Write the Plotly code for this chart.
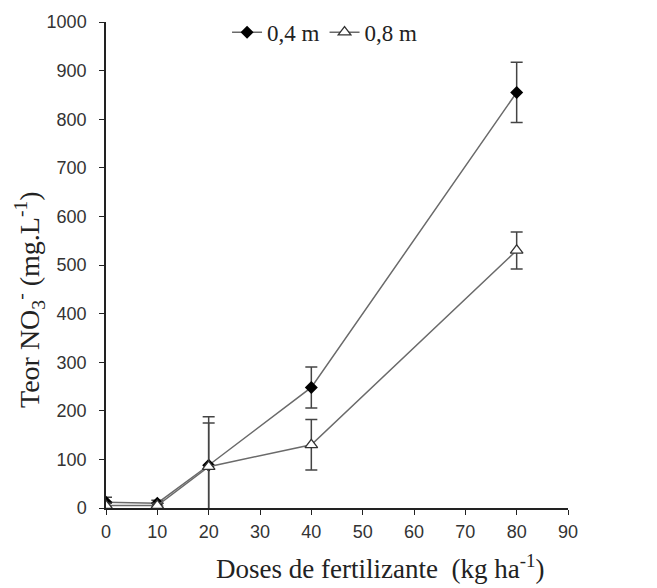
import plotly.graph_objects as go

doses = [0, 10, 20, 40, 80]
teor_04 = [12, 10, 88, 248, 855]
err_04 = [10, 6, 100, 42, 62]
teor_08 = [5, 5, 85, 130, 530]
err_08 = [5, 5, 90, 52, 38]

x_title = "Doses de fertilizante  (kg ha<sup>-1</sup>)"
y_title = "Teor NO<sub>3</sub><sup>-</sup> (mg.L<sup>-1</sup>)"

fig = go.Figure()
fig.add_trace(go.Scatter(
    x=doses, y=teor_04, name="0,4 m", mode="lines+markers",
    line=dict(color="#6a6a6a", width=1.5),
    marker=dict(symbol="diamond", size=10, color="black"),
    error_y=dict(type="data", array=err_04, color="#444444", thickness=1.5, width=6),
))
fig.add_trace(go.Scatter(
    x=doses, y=teor_08, name="0,8 m", mode="lines+markers",
    line=dict(color="#6a6a6a", width=1.5),
    marker=dict(symbol="triangle-up", size=11, color="white", line=dict(color="#333333", width=1.3)),
    error_y=dict(type="data", array=err_08, color="#444444", thickness=1.5, width=6),
))

fig.update_layout(
    width=657, height=588,
    margin=dict(l=106, r=89, t=22, b=80, autoexpand=False),
    paper_bgcolor="white", plot_bgcolor="white",
    showlegend=True,
    legend=dict(orientation="h", x=0.262, y=0.979, xanchor="left", yanchor="middle",
                font=dict(family="Liberation Serif", size=23, color="#222222"),
                bgcolor="rgba(0,0,0,0)", tracegroupgap=0),
    xaxis=dict(range=[0, 90], tickvals=[0, 10, 20, 30, 40, 50, 60, 70, 80, 90],
               showgrid=False, zeroline=False, showline=True, linecolor="#222222", linewidth=1.5,
               ticks="outside", ticklen=5, tickcolor="#222222", ticklabelstandoff=2,
               tickfont=dict(family="Liberation Sans", size=18, color="#333333")),
    yaxis=dict(range=[0, 1000], tickvals=list(range(0, 1001, 100)),
               showgrid=False, zeroline=False, showline=True, linecolor="#222222", linewidth=1.5,
               ticks="outside", ticklen=5, tickcolor="#222222", ticklabelstandoff=9,
               tickfont=dict(family="Liberation Sans", size=18, color="#333333")),
    annotations=[
        dict(text=x_title, xref="paper", yref="paper", x=0.593, y=-0.122,
             xanchor="center", yanchor="middle", showarrow=False,
             font=dict(family="Liberation Serif", size=27, color="#222222")),
        dict(text=y_title, xref="paper", yref="paper", x=-0.1667, y=0.43,
             xanchor="center", yanchor="middle", showarrow=False, textangle=-90,
             font=dict(family="Liberation Serif", size=28, color="#222222")),
    ],
)

fig.write_html("out.html")
